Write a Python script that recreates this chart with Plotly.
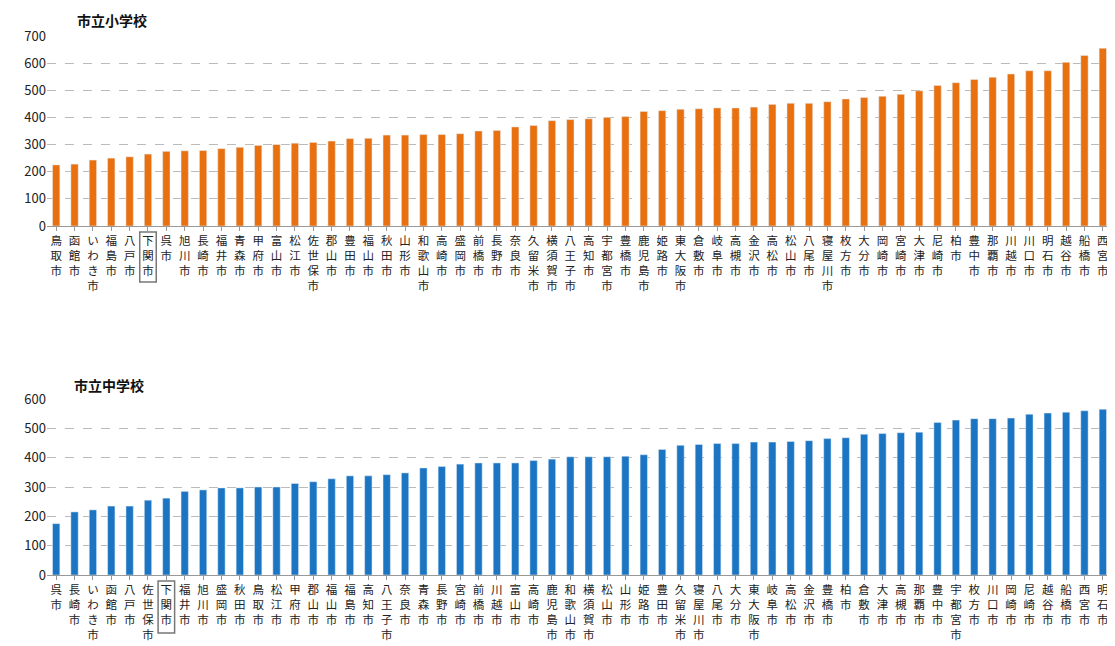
import plotly.graph_objects as go

elem_cities = ["鳥取市","函館市","いわき市","福島市","八戸市","下関市","呉市","旭川市","長崎市","福井市","青森市","甲府市","富山市","松江市","佐世保市","郡山市","豊田市","福山市","秋田市","山形市","和歌山市","高崎市","盛岡市","前橋市","長野市","奈良市","久留米市","横須賀市","八王子市","高知市","宇都宮市","豊橋市","鹿児島市","姫路市","東大阪市","倉敷市","岐阜市","高槻市","金沢市","高松市","松山市","八尾市","寝屋川市","枚方市","大分市","岡崎市","宮崎市","大津市","尼崎市","柏市","豊中市","那覇市","川越市","川口市","明石市","越谷市","船橋市","西宮市"]
elem_values = [225,228,243,250,255,265,275,277,278,285,290,297,300,305,308,313,322,323,335,335,337,337,340,350,352,365,370,388,392,395,400,403,422,425,430,432,435,435,438,448,452,452,458,468,473,478,485,498,518,528,540,548,560,572,572,603,628,655]

mid_cities = ["呉市","長崎市","いわき市","函館市","八戸市","佐世保市","下関市","福井市","旭川市","盛岡市","秋田市","鳥取市","松江市","甲府市","郡山市","福山市","福島市","高知市","八王子市","奈良市","青森市","長野市","宮崎市","前橋市","川越市","富山市","高崎市","鹿児島市","和歌山市","横須賀市","松山市","山形市","姫路市","豊田市","久留米市","寝屋川市","八尾市","大分市","東大阪市","岐阜市","高松市","金沢市","豊橋市","柏市","倉敷市","大津市","高槻市","那覇市","豊中市","宇都宮市","枚方市","川口市","岡崎市","尼崎市","越谷市","船橋市","西宮市","明石市"]
mid_values = [175,215,222,235,235,255,262,285,290,297,297,300,300,312,318,328,338,338,342,348,365,370,378,382,382,382,390,395,403,403,403,405,410,428,442,445,448,448,453,453,455,458,465,468,480,482,485,487,520,528,533,533,535,548,552,555,560,565]

OFF = 8
W, H = 1115 - OFF, 646 - OFF

def px(x):
    return (x - OFF) / W

def py(y):
    return 1 - (y - OFF) / H

def vert(s):
    return "<br>".join(list(s))

fig = go.Figure()
fig.add_trace(go.Bar(x=list(range(len(elem_cities))), y=elem_values, marker_color="#E8700F", width=0.4, xaxis="x", yaxis="y"))
fig.add_trace(go.Bar(x=list(range(len(mid_cities))), y=mid_values, marker_color="#1B75C2", width=0.4, xaxis="x2", yaxis="y2"))

font = dict(family="Noto Sans CJK JP", size=11.5, color="#222")
common_x = dict(tickmode="array", tickangle=0, tickfont=font, showgrid=False, ticks="outside", ticklen=4,
                tickcolor="#999", showline=True, linecolor="#999", domain=[px(47), px(1112)], automargin=False)
common_y = dict(tickfont=dict(family="Noto Sans CJK JP", size=13, color="#222"), showgrid=True, gridcolor="#bbb",
                griddash="dash", dtick=100, zeroline=False, automargin=False)
fig.update_layout(
    width=W, height=H, margin=dict(l=0, r=0, t=0, b=0),
    paper_bgcolor="white", plot_bgcolor="white", showlegend=False,
    xaxis=dict(common_x, tickvals=list(range(len(elem_cities))), ticktext=[vert(c) for c in elem_cities],
               range=[-0.5, len(elem_cities)-0.5], anchor="y"),
    yaxis=dict(common_y, domain=[py(226), py(36)], range=[0, 700], anchor="x"),
    xaxis2=dict(common_x, tickvals=list(range(len(mid_cities))), ticktext=[vert(c) for c in mid_cities],
                range=[-0.5, len(mid_cities)-0.5], anchor="y2"),
    yaxis2=dict(common_y, domain=[py(575), py(399)], range=[0, 600], anchor="x2"),
    annotations=[
        dict(text="<b>市立小学校</b>", x=px(75), y=py(20), xref="paper", yref="paper", showarrow=False,
             font=dict(family="Noto Sans CJK JP", size=14, color="#111"), xanchor="left", yanchor="middle"),
        dict(text="<b>市立中学校</b>", x=px(72), y=py(385), xref="paper", yref="paper", showarrow=False,
             font=dict(family="Noto Sans CJK JP", size=14, color="#111"), xanchor="left", yanchor="middle"),
    ],
)

i1 = elem_cities.index("下関市")
i2 = mid_cities.index("下関市")
fig.add_shape(type="rect", xref="x", yref="paper", x0=i1-0.45, x1=i1+0.45, y0=py(282), y1=py(232),
              line=dict(color="#777", width=1.5))
fig.add_shape(type="rect", xref="x2", yref="paper", x0=i2-0.45, x1=i2+0.45, y0=py(633), y1=py(581),
              line=dict(color="#777", width=1.5))
fig.write_html("out.html")
